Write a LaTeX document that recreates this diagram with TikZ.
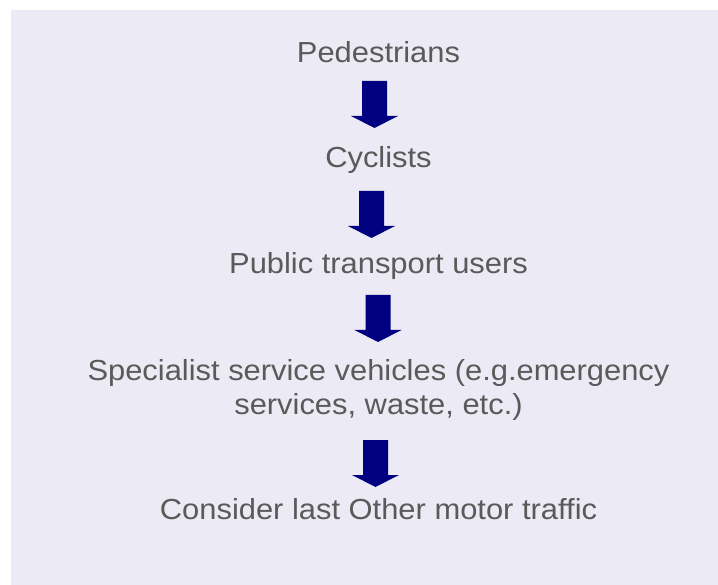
\documentclass[tikz,border=0pt]{standalone}
\usepackage{fontspec}
\setmainfont{Liberation Sans}[FakeStretch=1.065]
\definecolor{bgpanel}{RGB}{236,234,244}
\definecolor{labelgray}{RGB}{90,90,90}
\definecolor{arrownavy}{RGB}{0,0,128}
\begin{document}
\begin{tikzpicture}[x=1pt,y=-1pt,
  level/.style={anchor=base,text=labelgray,font=\fontsize{29}{34}\selectfont,align=center,inner sep=0pt},
  downarrow/.pic={\fill[arrownavy] (-12.5,0) -- (12.5,0) -- (12.5,35) -- (23.5,35) -- (0,47) -- (-23.5,35) -- (-12.5,35) -- cycle;}]
\useasboundingbox (0,0) rectangle (718,585);
\fill[bgpanel] (11,10) rectangle (718,585);

% priority levels, top to bottom (base anchor = last line's baseline)
\node[level] (ped) at (378.5,63) {Pedestrians};
\node[level] (cyc) at (378.5,168) {Cyclists};
\node[level] (pub) at (378.5,273.5) {Public transport users};
\node[level] (spec) at (378.5,414) {Specialist service vehicles (e.g.emergency\\services, waste, etc.)};
\node[level] (last) at (378.5,519.5) {Consider last Other motor traffic};

% block arrows between the levels
\coordinate (a1) at (374.5,81);
\coordinate (a2) at (371.5,191);
\coordinate (a3) at (378,295);
\coordinate (a4) at (375.5,440);
\foreach \c in {a1,a2,a3,a4} \pic at (\c) {downarrow};
\end{tikzpicture}
\end{document}
